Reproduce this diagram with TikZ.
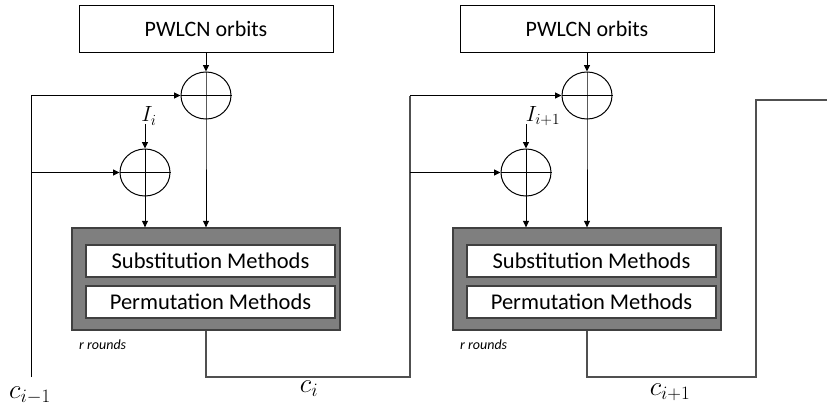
\RequirePackage{fix-cm}
\documentclass[tikz,border=0pt]{standalone}
\usepackage{fontspec}
\setmainfont{Carlito}
\usetikzlibrary{shapes.geometric,arrows.meta}
\definecolor{boxgray}{HTML}{7F7F7F}
\definecolor{edgegray}{HTML}{404040}
\definecolor{wiregray}{HTML}{505050}
\tikzset{
  wire/.style={line width=1pt,draw=black},
  arr/.style={wire,-{Triangle[length=6.5pt,width=6pt]}},
  outwire/.style={line width=1.2pt,draw=wiregray},
  srcbox/.style={draw=black,line width=1pt,fill=white,minimum width=254pt,minimum height=47pt,inner sep=0pt,font=\fontsize{22}{26}\selectfont},
  xorop/.style={ellipse,draw=black,line width=1pt,minimum width=50pt,minimum height=47pt,inner sep=0pt},
  outerbox/.style={draw=edgegray,line width=1.3pt,fill=boxgray,minimum width=268pt,minimum height=102pt,inner sep=0pt},
  innerbox/.style={draw=edgegray,line width=1.1pt,fill=white,minimum width=249pt,minimum height=32pt,inner sep=0pt,font=\fontsize{22.5}{26}\selectfont},
  rnd/.style={font=\fontsize{14}{16}\selectfont\itshape,anchor=west,inner sep=0pt},
  ilab/.style={font=\fontsize{22}{26}\selectfont,inner sep=0pt},
  clab/.style={font=\fontsize{27}{31}\selectfont,inner sep=0pt}
}
\begin{document}
\begin{tikzpicture}[x=1pt,y=-1pt]
\useasboundingbox (0,0) rectangle (827,407);
% ---------- block 1 ----------
\node[srcbox] (pwA) at (206,28.5) {PWLCN orbits};
\node[xorop] (xa1) at (206,95.5) {};
\node[xorop] (xa2) at (145,172.5) {};
\node[outerbox] (ga) at (206,279) {};
\node[innerbox] (sa) at (210.5,261) {Substitution Methods};
\node[innerbox] (pa) at (210.5,302) {Permutation Methods};
\node[rnd] (ra) at (79,345) {r rounds};
\node[ilab] (ia) at (149,116) {$I_i$};
\coordinate (la0) at (31,377);
\coordinate (la1) at (31,95.5);
\coordinate (la2) at (31,172.5);
\coordinate (oa1) at (206,377);
\coordinate (oa2) at (410,377);
\coordinate (oa3) at (410,95.5);
% ---------- block 2 ----------
\node[srcbox] (pwB) at (587,28.5) {PWLCN orbits};
\node[xorop] (xb1) at (587,95.5) {};
\node[xorop] (xb2) at (526,172.5) {};
\node[outerbox] (gb) at (587,279) {};
\node[innerbox] (sb) at (591.5,261) {Substitution Methods};
\node[innerbox] (pb) at (591.5,302) {Permutation Methods};
\node[rnd] (rb) at (460,345) {r rounds};
\node[ilab] (ib) at (543,116) {$I_{i+1}$};
\coordinate (lb2) at (410,172.5);
\coordinate (ob1) at (587,377);
\coordinate (ob2) at (756,377);
\coordinate (ob3) at (756,100);
\coordinate (ob4) at (827,100);
\coordinate (iat) at (145,124);
\coordinate (ibt) at (526,124);
% ---------- wires block 1 ----------
\draw[arr] (pwA.south) -- (xa1.north);
\draw[wire] (xa1.west) -- (xa1.east);
\draw[wire] (xa2.west) -- (xa2.east);
\draw[wire] (xa2.north) -- (xa2.south);
\draw[arr] (xa1.north) -- (xa1.south) -- (xa1.south |- ga.north);
\draw[arr] (xa2.south) -- (xa2.south |- ga.north);
\draw[arr] (iat) -- (xa2.north);
\draw[wire] (la0) -- (la1);
\draw[arr] (la1) -- (xa1.west);
\draw[arr] (la2) -- (xa2.west);
\draw[outwire] (ga.south) -- (oa1) -- (oa2) -- (oa3);
\draw[arr] (oa3) -- (xb1.west);
% ---------- wires block 2 ----------
\draw[arr] (pwB.south) -- (xb1.north);
\draw[wire] (xb1.west) -- (xb1.east);
\draw[wire] (xb2.west) -- (xb2.east);
\draw[wire] (xb2.north) -- (xb2.south);
\draw[arr] (xb1.north) -- (xb1.south) -- (xb1.south |- gb.north);
\draw[arr] (xb2.south) -- (xb2.south |- gb.north);
\draw[arr] (ibt) -- (xb2.north);
\draw[arr] (lb2) -- (xb2.west);
\draw[outwire] (gb.south) -- (ob1) -- (ob2) -- (ob3) -- (ob4);
% ---------- labels ----------
\node[clab] (ca) at (30,395) {$c_{i-1}$};
\node[clab] (cb) at (309,389) {$c_{i}$};
\node[clab] (cc) at (670,392) {$c_{i+1}$};
\end{tikzpicture}
\end{document}
